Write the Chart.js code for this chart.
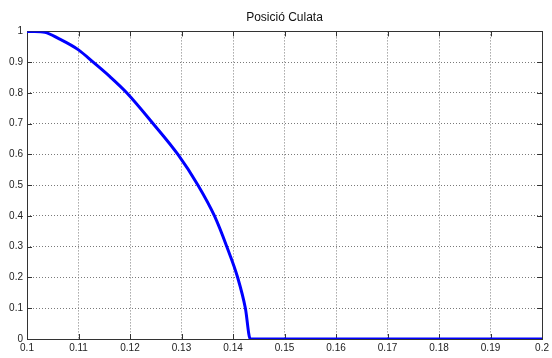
<!DOCTYPE html>
<html>
<head>
<meta charset="utf-8">
<script src="https://cdn.jsdelivr.net/npm/chart.js@4"></script>
<style>
  html, body { margin: 0; padding: 0; background: #fff; }
  #wrap { width: 552px; height: 358px; }
</style>
</head>
<body>
<div id="wrap"><canvas id="chart"></canvas></div>
<script>
// values
const posX = [0.1, 0.1015, 0.1035, 0.106, 0.11, 0.11285, 0.1161, 0.1194, 0.1245, 0.1293, 0.1332, 0.1364, 0.1388, 0.1409, 0.1424, 0.14335, 0.2];
const posY = [1, 1, 0.997, 0.978, 0.94, 0.9, 0.853, 0.8, 0.7, 0.6, 0.5, 0.4, 0.3, 0.2, 0.1, 0, 0];
const xRange = [0.1, 0.2];
const yRange = [0, 1];
const titleText = 'Posició Culata';

const points = posX.map((x, i) => ({ x: x, y: posY[i] }));
const fmt = v => String(+v.toFixed(2));

// matlab style box + inward tick marks
const boxPlugin = {
    id: 'box',
    beforeDatasetsDraw(chart) {
        const { ctx, chartArea: a, scales } = chart;
        const tl = 5;
        ctx.save();
        ctx.strokeStyle = '#333';
        ctx.lineWidth = 1;
        ctx.strokeRect(Math.round(a.left) + 0.5, Math.round(a.top) + 0.5, Math.round(a.width), Math.round(a.height));
        ctx.beginPath();
        scales.x.ticks.forEach(t => {
            const px = Math.round(scales.x.getPixelForValue(t.value)) + 0.5;
            ctx.moveTo(px, a.bottom); ctx.lineTo(px, a.bottom - tl);
            ctx.moveTo(px, a.top); ctx.lineTo(px, a.top + tl);
        });
        scales.y.ticks.forEach(t => {
            const py = Math.round(scales.y.getPixelForValue(t.value)) + 0.5;
            ctx.moveTo(a.left, py); ctx.lineTo(a.left + tl, py);
            ctx.moveTo(a.right, py); ctx.lineTo(a.right - tl, py);
        });
        ctx.stroke();
        ctx.restore();
    }
};

const gridOpts = { color: '#7a7a7a', drawTicks: false, lineWidth: 1 };
const borderOpts = { display: false, dash: [1, 2] };
const tickFont = { family: 'Arial, "Liberation Sans", sans-serif', size: 10 };

new Chart(document.getElementById('chart'), {
    type: 'scatter',
    data: {
        datasets: [{
            data: points,
            showLine: true,
            borderColor: '#0000ff',
            backgroundColor: '#0000ff',
            borderWidth: 3,
            pointRadius: 0,
            cubicInterpolationMode: 'monotone',
        }],
    },
    options: {
        responsive: true,
        maintainAspectRatio: false,
        animation: false,
        layout: { padding: { left: 0, right: 9, top: 0, bottom: 0 } },
        plugins: {
            legend: { display: false },
            tooltip: { enabled: false },
            title: {
                display: true,
                fullSize: false,
                text: titleText,
                color: '#111',
                font: { family: 'Arial, "Liberation Sans", sans-serif', size: 12, weight: 'normal' },
                padding: { top: 10, bottom: 7 },
            },
        },
        scales: {
            x: {
                type: 'linear',
                min: xRange[0],
                max: xRange[1],
                grid: gridOpts,
                border: borderOpts,
                ticks: {
                    stepSize: 0.01,
                    autoSkip: false,
                    maxRotation: 0,
                    padding: 3,
                    color: '#222',
                    font: tickFont,
                    callback: fmt,
                },
                afterFit(scale) { scale.height = 19; },
            },
            y: {
                type: 'linear',
                min: yRange[0],
                max: yRange[1],
                grid: gridOpts,
                border: borderOpts,
                ticks: {
                    stepSize: 0.1,
                    autoSkip: false,
                    padding: 4,
                    color: '#222',
                    font: tickFont,
                    callback: fmt,
                },
                afterFit(scale) { scale.width = 27; },
            },
        },
    },
    plugins: [boxPlugin],
});
</script>
</body>
</html>
